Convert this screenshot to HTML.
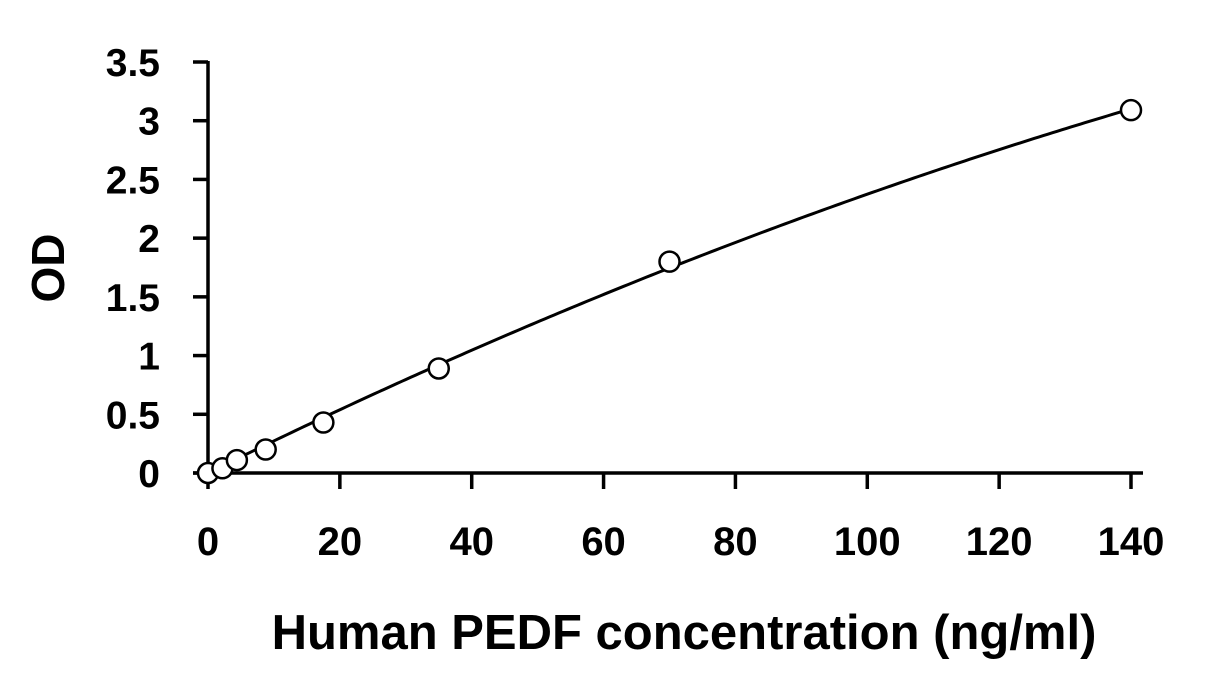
<!DOCTYPE html>
<html><head><meta charset="utf-8"><style>
html,body{margin:0;padding:0;background:#fff;}
svg text{font-family:"Liberation Sans",Arial,sans-serif;font-weight:bold;fill:#000;}
</style></head><body>
<svg id="chart" width="1207" height="692" viewBox="0 0 1207 692" xmlns="http://www.w3.org/2000/svg">
<rect width="1207" height="692" fill="#fff"/>
<g id="axes"></g>
<path id="curve" fill="none" stroke="#000" stroke-width="3"/>
<g id="points"></g>
<text x="0" y="0" font-size="46" text-anchor="middle" transform="translate(64,268) rotate(-90)">OD</text>
<text x="684" y="649" font-size="49" text-anchor="middle">Human PEDF concentration (ng/ml)</text>
</svg>
<script>
const concentrations = [0, 2.19, 4.38, 8.75, 17.5, 35, 70, 140];
const odValues = [0, 0.04, 0.11, 0.2, 0.43, 0.89, 1.8, 3.09];
const xTicks = [0, 20, 40, 60, 80, 100, 120, 140];
const yTicks = [0, 0.5, 1, 1.5, 2, 2.5, 3, 3.5];

const X0 = 208, X1 = 1131, Y0 = 473, Y1 = 62;
const sx = v => X0 + (v - 0) / 140 * (X1 - X0);
const sy = v => Y0 - v / 3.5 * (Y0 - Y1);
const NS = "http://www.w3.org/2000/svg";
const axes = document.getElementById('axes');
function mk(tag, attrs, parent) {
  const e = document.createElementNS(NS, tag);
  for (const k in attrs) e.setAttribute(k, attrs[k]);
  parent.appendChild(e);
  return e;
}
let l = mk('line', {x1: X0, y1: Y1 - 1, x2: X0, y2: Y0 + 1.5, stroke: '#000', 'stroke-width': 3.5}, axes);


l = mk('line', {x1: X0 - 15, y1: Y0, x2: X1 + 12, y2: Y0, stroke: '#000', 'stroke-width': 3.5}, axes);


yTicks.forEach(t => {
  const y = sy(t);
  const tk = mk('line', {x1: X0 - 15, y1: y, x2: X0, y2: y, stroke: '#000', 'stroke-width': 3.5}, axes);
  
  
  const tx = mk('text', {x: 160, y: y + 14, 'font-size': 39, 'text-anchor': 'end'}, axes);
  tx.textContent = String(t);
  
  
});
xTicks.forEach(t => {
  const x = sx(t);
  const tk = mk('line', {x1: x, y1: Y0, x2: x, y2: Y0 + 16, stroke: '#000', 'stroke-width': 3.5}, axes);
  
  
  const tx = mk('text', {x: x, y: 555, 'font-size': 40, 'text-anchor': 'middle'}, axes);
  tx.textContent = String(t);
  
  
});
// least-squares fit y = p*x + q*x^2 through origin
let s2 = 0, s3 = 0, s4 = 0, sxy = 0, sx2y = 0;
concentrations.forEach((c, i) => {
  const y = odValues[i];
  s2 += c * c; s3 += c * c * c; s4 += c * c * c * c; sxy += c * y; sx2y += c * c * y;
});
const det = s2 * s4 - s3 * s3;
const p = (sxy * s4 - s3 * sx2y) / det;
const q = (s2 * sx2y - s3 * sxy) / det;
const cMax = concentrations[concentrations.length - 1];
let d = '';
for (let k = 0; k <= 200; k++) {
  const c = cMax * k / 200;
  d += (k ? ' L' : 'M') + sx(c).toFixed(2) + ',' + sy(p * c + q * c * c).toFixed(2);
}
document.getElementById('curve').setAttribute('d', d);
const pg = document.getElementById('points');
concentrations.forEach((c0, i) => {
  const c = mk('circle', {cx: sx(c0), cy: sy(odValues[i]), r: 10, fill: '#fff', stroke: '#000', 'stroke-width': 2.5}, pg);
  
  
});
</script>
</body></html>
